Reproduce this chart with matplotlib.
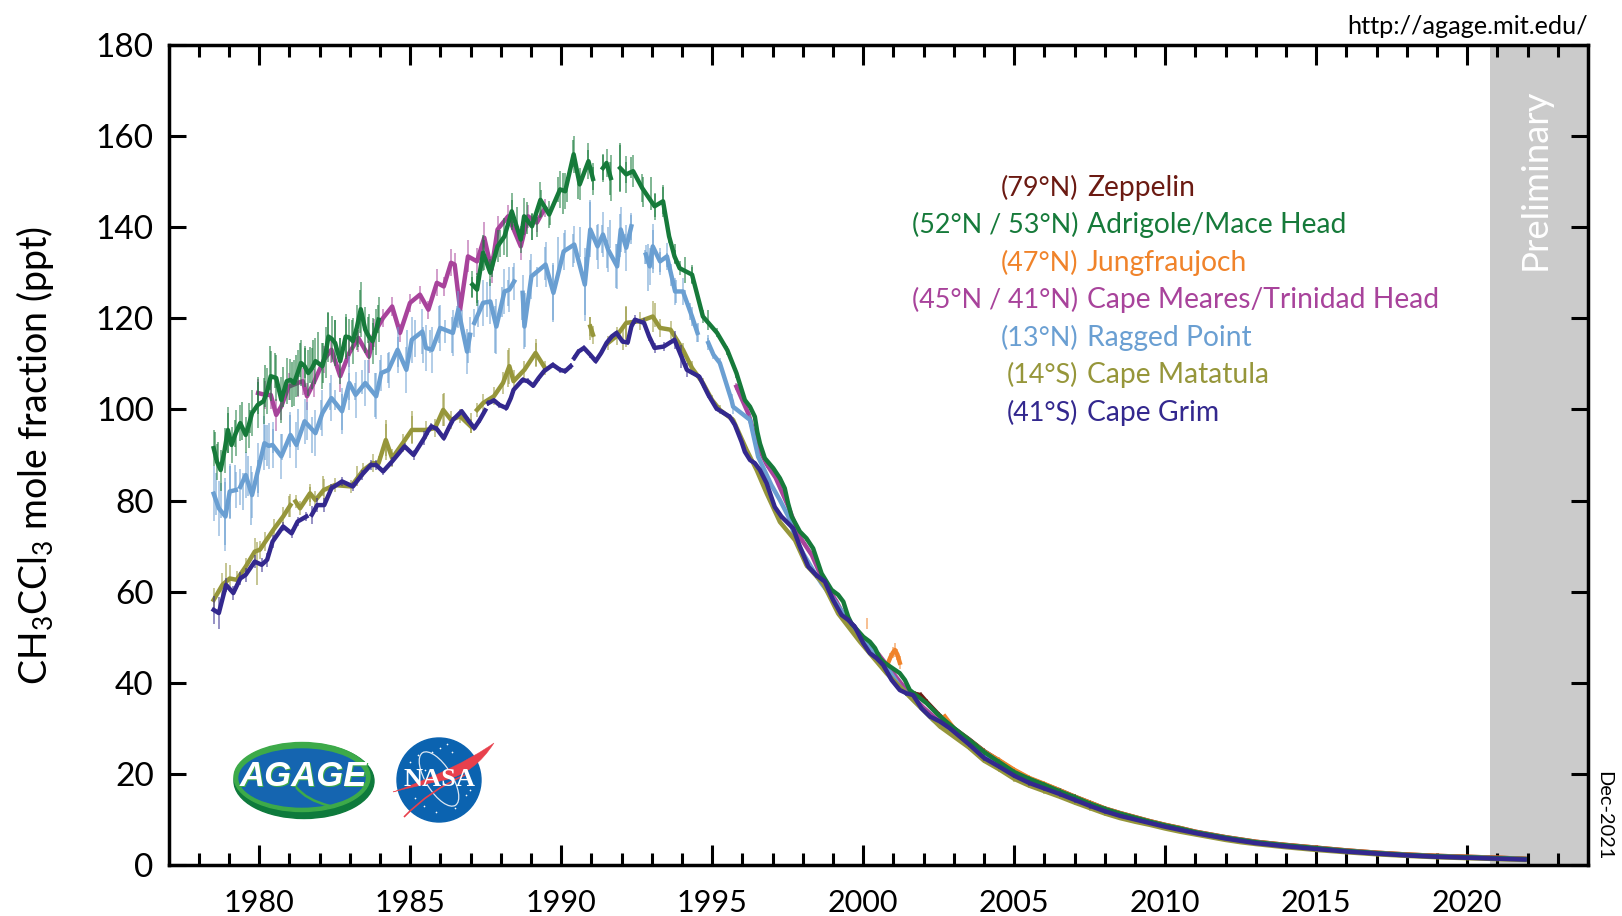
import numpy as np
import matplotlib
matplotlib.use('Agg')
import matplotlib.pyplot as plt
from matplotlib.patches import Ellipse, Circle, PathPatch
from matplotlib.path import Path

plt.rcParams['font.family'] = ['Lato', 'DejaVu Sans']
plt.rcParams['mathtext.fontset'] = 'custom'
plt.rcParams['mathtext.rm'] = 'Lato'
plt.rcParams['mathtext.default'] = 'regular'

nan = np.nan

# shared tail, all stations nearly on top of each other after 2003
tail_year = [2003.5, 2004, 2004.5, 2005, 2005.5, 2006, 2006.5, 2007, 2007.5, 2008,
             2008.5, 2009, 2009.5, 2010, 2010.5, 2011, 2011.5, 2012, 2012.5, 2013,
             2014, 2015, 2016, 2017, 2018, 2019, 2020, 2021, 2021.9]
grim_tail = [26.5, 23.5, 21.6, 19.6, 18, 16.8, 15.6, 14.3, 13, 11.8,
             10.8, 10, 9.2, 8.4, 7.7, 7, 6.4, 5.8, 5.3, 4.8,
             4.1, 3.5, 2.95, 2.5, 2.1, 1.8, 1.6, 1.4, 1.2]
mace_tail = [27.5, 24.8, 22.6, 20.4, 18.9, 17.6, 16.2, 14.9, 13.5, 12.3,
             11.3, 10.4, 9.5, 8.7, 8, 7.2, 6.6, 6, 5.5, 5,
             4.3, 3.7, 3.1, 2.6, 2.2, 1.9, 1.7, 1.5, 1.3]
samoa_tail = [25.8, 22.9, 21, 18.9, 17.4, 16.2, 15, 13.7, 12.5, 11.3,
              10.3, 9.5, 8.8, 8, 7.3, 6.7, 6.1, 5.5, 5, 4.6,
              3.9, 3.3, 2.8, 2.35, 2, 1.7, 1.5, 1.3, 1.1]
ragged_tail = [26.6, 23.9, 21.9, 19.8, 18.3, 17, 15.8, 14.5, 13.2, 12,
               11, 10.1, 9.3, 8.5, 7.8, 7.1, 6.5, 5.9, 5.4, 4.9,
               4.2, 3.6, 3, 2.55, 2.15, 1.85, 1.65, 1.45, 1.25]
trinidad_tail = [27.2, 24.5, 22.3, 20.2, 18.7, 17.4, 16, 14.7, 13.4, 12.2,
                 11.2, 10.3, 9.4, 8.6, 7.9, 7.2, 6.6, 6, 5.5, 5,
                 4.3, 3.7, 3.1, 2.6, 2.2, 1.9, 1.7, 1.5, 1.3]
zeppelin_tail = [27.6, 25, 22.9, 20.7, 19, 17.7, 16.4, 15, 13.7, 12.4,
                 11.4, 10.5, 9.6, 8.8, 8.1, 7.3, 6.7, 6.1, 5.6, 5.1,
                 4.4, 3.8, 3.2, 2.7, 2.3, 2, 1.8, 1.6, 1.35]
jungfrau_tail = [27.4, 24.9, 23, 20.9, 19.1, 17.8, 16.4, 15, 13.7, 12.4,
                 11.4, 10.5, 9.6, 8.8, 8.1, 7.3, 6.7, 6.1, 5.6, 5.1,
                 4.4, 3.8, 3.2, 2.7, 2.3, 2, 1.8, 1.6, 1.35]
tail_err = [0.6] * 10 + [0.3] * 19

# Adrigole then Mace Head
mace_year = [1978.49, 1978.60, 1978.72, 1978.85, 1978.96, 1979.08, 1979.22, 1979.37, 1979.55, 1979.65,
             1979.76, 1979.95, 1980.14, 1980.26, 1980.38, 1980.56, 1980.73, 1980.91, 1981.03, 1981.15,
             1981.27, 1981.38, 1981.50, 1981.62, 1981.74, 1981.86, 1982.09, 1982.20, 1982.29, 1982.40,
             1982.51, 1982.68, 1982.86, 1982.98, 1983.10, 1983.23, 1983.36, 1983.51, 1983.63, 1983.75,
             1983.85, 1983.95, nan,
             1987.06, 1987.21, 1987.41, 1987.65, 1987.89, 1988.12, 1988.36, 1988.66, 1988.77, 1989.03,
             1989.31, 1989.60, 1989.96, 1990.13, 1990.41, 1990.61, 1990.90, 1991.05, nan, 1991.38,
             1991.50, 1991.64, nan, 1991.95, 1992.15, 1992.38, 1992.68, 1993.09, 1993.37, 1993.57,
             1993.75, 1993.92, 1994.33, 1994.69, 1995.16, 1995.50, 1995.80]
mace_ppt = [91.5, 88.5, 86.7, 91, 95.5, 92.2, 94.8, 97, 94.4, 96.5,
            99.2, 101, 101.8, 104, 107.3, 106.9, 102.1, 106.2, 106.5, 105.8,
            108, 110.2, 109.5, 108, 109, 110.6, 109.5, 112.5, 116, 115.5,
            114.6, 110.6, 116, 115.8, 115, 118, 122, 117.5, 116, 115,
            117, 119.7, nan,
            127.4, 126.3, 134.4, 130, 135.8, 138, 143.5, 137.3, 142.4, 140.2,
            146, 142.8, 148.3, 147.9, 156, 149.4, 154.5, 150.6, nan, 153,
            154.1, 150.8, nan, 153, 151.6, 152.3, 148.6, 144.6, 145.7, 138,
            133.6, 131, 129.6, 120.4, 116.8, 113, 108]
mace_err = [4, 4, 4.5, 5, 5, 4, 5, 4, 4, 5,
            5, 5, 5, 5, 5.5, 5, 5, 5, 4.5, 5,
            5, 5, 4.5, 5, 4.5, 5, 5, 5.5, 5.5, 5,
            5, 5, 5, 4, 5, 5, 6, 5, 5, 5,
            5, 5, nan,
            3, 3, 4, 3, 3.5, 4, 4, 3, 4, 3,
            4, 3, 4, 4, 4, 3.5, 4, 3.5, nan, 3,
            3, 5, nan, 5, 4, 3.5, 3, 3, 3.5, 1.5,
            1.5, 1.5, 2, 1.5, 1, 1, 1]
mace_fall_year = [1996.08, 1996.25, 1996.41, 1996.49, 1996.58, 1996.74, 1997.02, 1997.24, 1997.40, 1997.51,
                  1997.63, 1997.90, 1998.12, 1998.34, 1998.51, 1998.62, 1998.95, 1999.17, 1999.34, 1999.50,
                  1999.61, 2000, 2000.22, 2000.39, 2000.55, 2000.66, 2001.21, 2001.38, 2001.54, 2002.1,
                  2002.43, 2002.76, 2003.09]
mace_fall_ppt = [102.06, 100.6, 98.4, 95.1, 92.5, 89.3, 87.1, 84.9, 82.7, 79.4,
                 76.5, 73.2, 71.7, 69.5, 66.2, 64, 60.4, 59.3, 57.8, 54.5,
                 53, 50.1, 49, 47.6, 45.4, 44.6, 42.1, 40.6, 38.4, 35.5,
                 33.3, 31.4, 29.6]
mace_bar_year = [1978.53, 1978.64, 1978.95, 1979.19, 1979.44, 1979.69, 1979.97, 1980.19, 1980.37, 1980.52,
                 1980.79, 1981.07, 1981.20, 1981.35, 1981.51, 1981.68, 1981.79, 1981.95, 1982.12, 1982.28,
                 1982.50, 1982.67, 1982.86, 1983.06, 1983.28, 1983.35, 1983.61, 1983.77, 1983.94,
                 1987.03, 1987.22, 1987.44, 1987.69, 1987.97, 1988.19, 1988.36, 1988.52, 1988.85, 1989.02,
                 1989.19, 1989.33, 1989.63, 1989.90, 1990.05, 1990.18, 1990.38, 1990.56, 1990.90, 1991.04,
                 1991.39, 1991.61, 1991.94, 1992.16, 1992.30, 1992.72, 1992.96, 1993.10, 1993.36, 1993.76,
                 1994.10, 1994.32, 1994.87]
mace_bar_top = [95.1, 92.9, 99.3, 97.7, 101.7, 99.9, 107.2, 109.7, 114, 112.3,
                109.4, 110.5, 111.9, 114.5, 113.4, 113.8, 115.2, 117.1, 114.5, 121.1,
                119.6, 115.6, 120.4, 119.6, 117.4, 126.2, 120.4, 118.9, 122.9,
                129.1, 129.9, 137.2, 132, 139.4, 139.4, 145.9, 144.5, 145.6, 143,
                142.3, 148.2, 143.8, 151.1, 151.8, 151.1, 159.1, 151.8, 156.9, 153.3,
                155.8, 154.4, 158.4, 154.4, 155.5, 151.1, 151.1, 147.4, 148.9, 136.4,
                133.5, 131.3, 121.8]
mace_bar_bot = [88.9, 88.9, 90.4, 91.8, 93.3, 94.8, 99.1, 100.6, 104.3, 104.6,
                100.6, 100.6, 102.8, 107.2, 106.8, 105.7, 109.4, 110.1, 105.7, 112.3,
                113.8, 110.1, 111.6, 113.1, 113.8, 116.7, 114.5, 113.1, 116.7,
                124.7, 122.6, 130.6, 129.1, 133.5, 133.5, 140.1, 139.4, 138.6, 137.2,
                137.9, 142.3, 140.5, 145.6, 143, 145.6, 153.3, 146.3, 152.6, 148.2,
                150.4, 147, 147.8, 149.6, 150.7, 144.5, 143.8, 142.3, 143, 132,
                127.7, 127.7, 117.4]

# Cape Meares then Trinidad Head
trinidad_year = [1979.96, 1980.20, 1980.38, 1980.56, 1980.73, 1980.97, 1981.27, 1981.44, 1981.58, 1981.80,
                 1982.15, 1982.39, 1982.68, 1982.98, 1983.28, 1983.63, 1983.81, 1984.10, 1984.40, 1984.66,
                 1984.99, 1985.32, 1985.60, 1985.88, 1986.11, 1986.35, 1986.47, 1986.65, 1986.91, 1987.21,
                 1987.45, 1987.69, 1987.89, 1988.24, 1988.66, 1988.90, 1989.19, 1989.46, nan,
                 1995.80, 1996.20, 1996.50, 1996.80, 1997.10, 1997.50, 1997.90, 1998.30, 1998.70, 1999.10,
                 1999.50, 2000, 2000.50, 2001, 2001.50, 2002, 2002.50, 2003] + tail_year
trinidad_ppt = [103.6, 103.2, 103.2, 98.8, 100.7, 105, 105.8, 106.2, 102.9, 105.8,
                111, 113.1, 107.3, 112.4, 115.7, 111.6, 116.8, 120.1, 122.6, 116.8,
                123.4, 125.2, 121.9, 127.8, 127, 132.2, 131.8, 121.9, 133.6, 132.5,
                137.7, 130.7, 139.5, 142.4, 135.8, 142.4, 141, 144.2, nan,
                105, 99, 92, 88, 85, 79, 72, 68, 62, 58,
                53, 49.5, 46.3, 42, 37.8, 34.5, 31.6, 29] + trinidad_tail
trinidad_err = [3, 3, 3, 3.5, 3, 3, 3, 3, 3, 3,
                3, 3, 3.5, 3, 3, 3.5, 3, 2, 2, 2,
                2, 2, 2, 3, 2, 3, 2.5, 3, 3.5, 3,
                3.5, 3, 3, 2.5, 3, 2.5, 2, 2, nan,
                0.8, 0.8, 0.8, 0.8, 0.5, 0.5, 0.5, 0.5, 0.5, 0.5,
                0.5, 0.5, 0.5, 0.5, 0.5, 0.5, 0.5, 0.5] + tail_err

# Ragged Point
ragged_year = [1978.49, 1978.66, 1978.88, 1979.02, 1979.22, nan, 1979.37, 1979.55, 1979.76, 1979.96,
               1980.17, 1980.31, 1980.44, 1980.73, 1981.03, 1981.23, 1981.50, 1981.86, 1982.09, 1982.39,
               1982.74, 1982.98, 1983.19, 1983.51, 1983.87, 1984.04, 1984.28, 1984.58, 1984.87, 1985.05,
               1985.40, 1985.52, 1985.72, 1985.99, 1986.41, 1986.59, 1986.88, 1986.98, nan, 1987.12,
               1987.41, 1987.65, 1987.85, 1988.12, 1988.28, 1988.44, nan, 1988.72, 1988.78, 1989.01,
               1989.48, 1989.74, 1990.08, 1990.43, 1990.78, 1990.96, 1991.20, 1991.38, 1991.55, 1991.85,
               1991.97, 1992.15, 1992.32, nan, 1992.80, 1992.93, 1993.03, 1993.27, 1993.50, 1993.77,
               1994.03, 1994.33, 1994.51, nan, 1994.87, 1995.04, 1995.25, 1995.64, 1995.69, 1996.25,
               1996.52, 1996.96, 1997.24, 1997.52, 1997.74, 1998.01, 1998.34, 1998.62, 1998.95, 1999.34,
               1999.78, 2000.22, 2000.77, 2001.21, 2001.77, 2002.32, 2002.90] + tail_year
ragged_ppt = [81.5, 78.3, 76.5, 82, 82.3, nan, 83, 85.6, 81.2, 86.7,
              92.6, 92, 92.2, 89.7, 94.4, 92.2, 97.4, 94.8, 99.2, 102.5,
              99.6, 105.8, 103.2, 105.8, 102.9, 108, 108.7, 113.1, 108.7, 115.3,
              117.1, 113.5, 113.1, 117.9, 116.8, 121.9, 112.7, 116.4, nan, 119,
              123.4, 123.7, 118.2, 125.9, 126.3, 128.1, nan, 125.6, 118.2, 129.2,
              131.8, 125.6, 134.7, 136.2, 127.4, 139.5, 135.8, 138.4, 135.1, 131.4,
              139.5, 135.5, 140.2, nan, 134, 131.4, 135.8, 132.5, 133.6, 125.9,
              125.9, 120.4, 116.8, nan, 114.6, 112, 110.2, 102, 100.6, 97.7,
              89.6, 83.4, 80.1, 76.5, 72, 68.4, 64.7, 61.8, 58.9, 55.2,
              51.6, 48, 43.5, 39.2, 35.5, 31.8, 29.2] + ragged_tail
ragged_err = [6, 6, 7.5, 6, 4, nan, 4, 5, 5, 6,
              6, 5, 5, 5, 5, 5, 5, 5, 5, 5,
              5, 6, 5, 5, 5, 4, 4, 5, 5, 5,
              5, 5, 5, 5, 5, 4, 5, 4, nan, 3,
              5, 5, 6, 5, 5, 4, nan, 4, 5, 5,
              5, 6, 4, 4, 8, 6, 5, 5, 5, 5,
              5, 5, 3, nan, 2, 4, 5, 3, 3, 3,
              3, 2, 2, nan, 1, 1, 1, 1.5, 1.5, 1,
              0.5, 0.5, 0.5, 0.5, 0.5, 0.5, 0.5, 0.5, 0.5, 0.5,
              0.5, 0.5, 0.5, 0.5, 0.5, 0.5, 0.5] + tail_err
ragged_bar_year = [1978.55, 1978.72, 1978.86, 1979.04, 1979.20, 1979.46, 1979.63, 1979.73, 1979.96, 1980.24,
                   1980.19, 1980.46, 1980.74, 1981.01, 1981.29, 1981.57, 1981.73, 1982.06, 1982.34, 1982.50,
                   1982.75, 1982.97, 1983.17, 1983.39, 1983.61, 1983.83, 1984, 1984.27, 1984.60, 1984.88,
                   1985.16, 1985.43, 1985.65, 1985.96, 1986.15, 1986.37, 1986.54, 1986.70, 1986.92, 1987.25,
                   1987.55, 1987.81, 1988.03, 1988.25, 1988.41, 1988.69, 1988.80, 1988.96, 1989.19, 1989.46,
                   1989.72, 1989.90, 1990.12, 1990.40, 1990.62, 1990.79, 1990.95, 1991.17, 1991.34, 1991.50,
                   1991.61, 1991.81, 1991.94, 1992.11, 1992.30, 1992.77, 1992.88, 1993.03, 1993.27, 1993.49,
                   1993.65, 1993.80, 1994.10, 1994.26, 1994.54, 1994.87]
ragged_bar_top = [86, 83.8, 84.9, 87.5, 87.8, 86, 89.7, 87.5, 88.9, 96.6,
                  96.6, 95.8, 94.7, 98.8, 100.2, 101.7, 98.4, 102.1, 105.7, 104.3,
                  103.5, 107.9, 105.7, 108.6, 110.8, 107.9, 110.8, 112.3, 116, 117.4,
                  119.6, 118.2, 117.4, 122.6, 119.6, 120.4, 122.6, 121.8, 116.7, 124,
                  128, 122.6, 126.9, 128.4, 131.3, 125.5, 125.5, 132.8, 131.3, 135.7,
                  132.1, 137.9, 139.4, 138.6, 140.1, 133.5, 146, 140.5, 140.5, 137.2,
                  141.6, 136.4, 143, 138.6, 142.7, 135, 136.4, 139.4, 134.6, 134.3,
                  132, 128.4, 126.2, 123.3, 118.9, 116.3]
ragged_bar_bot = [76.9, 76.1, 70.3, 76.1, 82.3, 78, 80.9, 74.7, 81.6, 87.5,
                  88.9, 90.4, 88.9, 91.8, 91.1, 93.3, 90.4, 95.5, 99.9, 99.9,
                  95.5, 102.1, 102.1, 103.5, 105, 98.4, 107.2, 105.7, 109.4, 110.8,
                  111.6, 110.1, 112.3, 114.5, 114.5, 112.3, 118.2, 116.7, 110.1, 118.2,
                  120.4, 112.3, 120.4, 122.6, 126.9, 119.6, 113.8, 125.5, 126.9, 128.4,
                  119.3, 128.4, 134.3, 131.3, 133.5, 120.7, 137.2, 132.8, 134.3, 131,
                  135.4, 126.6, 133.5, 134.3, 136.4, 132, 125.9, 129.9, 130.2, 131.3,
                  127, 123.3, 124, 119.6, 114.9, 113]

# Cape Matatula
samoa_year = [1978.49, 1978.78, 1979.02, 1979.25, 1979.55, 1979.85, 1980.02, 1980.20, 1980.50, 1980.79,
              1981.03, nan, 1981.20, 1981.35, 1981.68, 1981.86, 1982.13, 1982.50, 1983.04, 1983.45,
              1983.75, 1983.95, 1984.19, 1984.40, 1984.75, 1985.05, 1985.52, 1985.82, 1986.09, 1986.35,
              1986.65, 1987, nan, 1987.21, 1987.41, 1987.77, 1988.07, 1988.28, 1988.42, 1988.78,
              1989.15, 1989.46, nan, 1990.96, 1991.05, nan, 1991.55, 1991.83, 1992.15, 1992.62,
              1993.03, 1993.27, 1993.62, 1994.03, 1994.33, 1994.69, 1994.99, 1995.25, 1995.69, 1996.14,
              1996.47, 1996.80, 1997.24, 1997.74, 1998.12, 1998.67, 1999.17, 1999.89, 2000.77, 2001.65,
              2002.54] + tail_year
samoa_ppt = [58.2, 61.5, 62.9, 62.6, 65.5, 68.8, 69.2, 71, 73.9, 76.5,
             79, nan, 79.8, 78.3, 81.6, 80.1, 82.3, 83.4, 83.1, 86.7,
             88.2, 88.2, 93.3, 89.3, 92.6, 95.5, 95.5, 95.9, 99.9, 97.7,
             98.5, 96.3, nan, 99.9, 101.4, 102.9, 105.8, 109.5, 106.2, 108.7,
             112.4, 109.1, nan, 118.2, 116.4, nan, 114.6, 116.1, 119, 119.4,
             120.4, 117.9, 117.5, 113.1, 109.1, 105.8, 102.1, 99.9, 97.7, 91.1,
             86.7, 81.6, 75.3, 71.3, 65.8, 61.8, 55.2, 49, 42.1, 36.2,
             30.4] + samoa_tail
samoa_err = [2.5, 2.5, 3, 2, 2, 3, 2, 2, 2, 2,
             2.5, nan, 1.5, 1.5, 2, 2, 2.5, 1.5, 1.5, 1.5,
             2, 1.5, 3.5, 2, 2, 3, 2, 2, 3.5, 2,
             1.5, 1.5, nan, 1.5, 2, 2, 2.5, 4, 2.5, 2,
             3, 1.5, nan, 2, 2, nan, 1.5, 2, 3.5, 2,
             3.5, 2, 2, 1.5, 1.5, 1, 1, 1, 0.7, 0.6,
             0.5, 0.5, 0.5, 0.5, 0.5, 0.5, 0.5, 0.5, 0.5, 0.5,
             0.5] + tail_err
samoa_bar_year = [1978.90, 1979.91, 1980.97, 1981.68, 1982.12, 1983.22, 1984.19, 1985.05, 1986.11, 1987,
                  1988.24, 1989.15, 1990.96, 1992.03, 1992.15, 1993.09]
samoa_bar_top = [66.2, 71, 80.9, 83, 85.3, 87.5, 97.7, 99.6, 103.6, 99.2,
                 113.1, 114.6, 120.4, 118, 122.6, 123.4]
samoa_bar_bot = [61, 61.5, 76.5, 78.7, 80.9, 83.1, 88.9, 92.6, 96.3, 94.8,
                 105, 109.5, 115.3, 113, 113.8, 118.2]

# Cape Grim
grim_year = [1978.49, 1978.66, 1978.90, 1979.14, 1979.37, 1979.55, 1979.85, 1980.08, 1980.26, 1980.44,
             1980.79, 1981.07, 1981.27, 1981.56, nan, 1981.74, 1981.92, 1982.15, 1982.39, 1982.74,
             1983.10, 1983.39, 1983.69, 1983.87, 1984.10, 1984.40, 1984.81, 1985.11, 1985.46, 1985.58,
             1985.70, 1985.88, 1986.11, 1986.27, 1986.41, 1986.70, 1986.91, 1987.12, 1987.30, 1987.48,
             nan, 1987.59, 1987.77, 1987.95, 1988.18, 1988.33, 1988.42, 1988.72, 1988.89, 1989.07,
             1989.25, 1989.43, 1989.72, 1989.96, 1990.13, 1990.31, nan, 1990.43, 1990.57, 1990.75,
             1990.96, 1991.14, 1991.32, 1991.50, 1991.67, 1991.83, 1992.03, 1992.20, 1992.32, 1992.44,
             1992.74, 1992.91, 1993.09, 1993.39, 1993.75, 1993.98, 1994.16, 1994.57, 1994.87]
grim_ppt = [56, 55.3, 61.5, 59.7, 62.9, 63.7, 66.6, 65.9, 67, 71,
            74.3, 72.8, 75.4, 76.5, nan, 76.9, 79, 79, 82.7, 84.2,
            83.1, 85.6, 87.8, 87.8, 86.4, 88.6, 91.9, 90, 93.7, 95.2,
            96.3, 95.7, 93.7, 95.9, 97.7, 99.6, 97.7, 95.9, 97.7, 99.8,
            nan, 101.4, 102, 101, 100.3, 102.5, 104.3, 106.5, 106.2, 105.2,
            106.9, 108.4, 109.8, 108.7, 108.4, 109.5, nan, 111.3, 112.7, 113.5,
            112, 110.6, 112.4, 114.6, 116, 116.8, 114.9, 114.7, 118.2, 119.7,
            119, 116, 113.5, 113.8, 115.3, 111.6, 108.7, 107.2, 103.2]
grim_err = [3, 3.5, 1.5, 1.5, 1.5, 1.5, 1.5, 1.5, 1.5, 1.5,
            1, 1, 1, 1, nan, 2, 1.5, 1.5, 1, 1,
            1, 1, 1, 1, 0.8, 1, 0.8, 1, 1.5, 0.8,
            0.8, 0.6, 0.6, 0.6, 0.6, 0.6, 0.6, 0.6, 0.6, 0.6,
            nan, 0.6, 0.6, 0.6, 0.6, 0.6, 0.6, 0.6, 0.6, 0.6,
            0.6, 0.6, 0.6, 0.6, 0.6, 0.6, nan, 0.6, 0.6, 0.6,
            0.6, 0.6, 0.6, 0.6, 0.6, 0.6, 0.6, 0.6, 0.6, 1,
            1, 1, 1, 1, 2, 2.5, 1.5, 0.6, 0.6]
grim_fall_year = [1995.14, 1995.36, 1995.58, 1995.75, 1995.97, 1996.08, 1996.25, 1996.41, 1996.58, 1996.80,
                  1997.07, 1997.29, 1997.68, 1997.90, 1998.18, 1998.45, 1998.73, 1999.0, 1999.28, 1999.50,
                  1999.72, 2000.0, 2000.22, 2000.44, 2000.66, 2000.94, 2001.21, 2001.43, 2001.65, 2001.93,
                  2002.21, 2002.54, 2002.87]
grim_fall_ppt = [100.2, 99.3, 98.4, 96.6, 92.9, 90.7, 88.9, 88.2, 86.7, 83.8,
                 78.6, 76.5, 73.9, 69.9, 65.5, 63.6, 62.2, 58.2, 54.9, 53.8,
                 52.3, 48.7, 46.5, 45.4, 43.9, 40.6, 38.4, 37.7, 37.3, 34.4,
                 32.6, 31.5, 30]

# Jungfraujoch
jungfrau_year = [2000.11, nan, 2000.80, 2000.90, 2000.98, 2001.05, 2001.13, 2001.21, nan, 2002.70, 2003] + tail_year
jungfrau_ppt = [53, nan, 44, 45.6, 46.6, 47.2, 46.2, 44.4, nan, 32.6, 30] + jungfrau_tail
jungfrau_err = [1.2, nan, 0.8, 1, 1.2, 1.5, 1.2, 1.4, nan, 0.5, 0.5] + tail_err

# Zeppelin
zeppelin_year = [2001.70, 2001.90, 2002.10, 2002.50, 2003] + tail_year
zeppelin_ppt = [37.6, 37.3, 35.8, 33, 30] + zeppelin_tail
zeppelin_err = [0.6, 0.6, 0.6, 0.6, 0.6] + tail_err

legend_lat = ['(79°N)', '(52°N / 53°N)', '(47°N)', '(45°N / 41°N)', '(13°N)', '(14°S)', '(41°S)']
legend_site = ['Zeppelin', 'Adrigole/Mace Head', 'Jungfraujoch', 'Cape Meares/Trinidad Head',
               'Ragged Point', 'Cape Matatula', 'Cape Grim']
legend_color = ['#6B1A12', '#167A3A', '#F0832A', '#A8439B', '#6A9FD2', '#96963A', '#33288E']
year_ticks = [1980, 1985, 1990, 1995, 2000, 2005, 2010, 2015, 2020]
ppt_ticks = [0, 20, 40, 60, 80, 100, 120, 140, 160, 180]
prelim_start = 2020.75

W, H = 1622, 916


def draw_station(ax, year, ppt, err, color, zorder):
    year = np.array(year)
    ppt = np.array(ppt)
    err = np.array(err)
    ok = ~np.isnan(year)
    ax.vlines(year[ok], ppt[ok] - err[ok], ppt[ok] + err[ok], color=color, lw=1.1, alpha=0.65, zorder=zorder)
    ax.plot(year, ppt, color=color, lw=3.2, solid_joinstyle='round', zorder=zorder + 0.1)


def draw_logos(fig):
    # logos in pixel coordinates of the figure
    lax = fig.add_axes([0, 0, 1, 1], zorder=5)
    lax.set_xlim(0, W)
    lax.set_ylim(H, 0)
    lax.axis('off')
    lax.patch.set_alpha(0)

    lax.add_patch(Ellipse((304, 781), 140, 75, color='#0E7A3C'))
    lax.add_patch(Ellipse((302, 777), 136, 69, color='#3DAA49'))
    lax.add_patch(Ellipse((302, 778), 126, 58, color='#1565B0'))
    curve = Path([(296, 787), (306, 800), (330, 806)], [Path.MOVETO, Path.CURVE3, Path.CURVE3])
    lax.add_patch(PathPatch(curve, fc='none', ec='#3DAA49', lw=1.8))
    for dx, dy, c in [(1.5, 1.5, '#3DAA49'), (0, 0, 'white')]:
        lax.text(303 + dx, 776 + dy, 'AGAGE', color=c, fontsize=25, fontweight='bold', fontstyle='italic',
                 family='Liberation Sans', ha='center', va='center')

    lax.add_patch(Circle((439, 780), 42, color='#0B63B0'))
    star_x = [410, 418, 425, 440, 447, 452, 462, 415, 424, 436, 455, 466, 470, 432]
    star_y = [762, 755, 770, 748, 744, 752, 768, 798, 806, 812, 808, 795, 790, 752]
    lax.scatter(star_x, star_y, s=1.5, color='white', lw=0)
    lax.add_patch(Ellipse((439, 779), 26, 62, angle=-32, fc='none', ec='#DDE7F2', lw=0.9))
    wing = Path([(393, 792), (455, 770), (494, 743), (475, 773), (445, 780), (420, 785), (393, 792)],
                [Path.MOVETO, Path.CURVE3, Path.CURVE3, Path.CURVE3, Path.CURVE3, Path.CURVE3, Path.CURVE3])
    lax.add_patch(PathPatch(wing, fc='#E8404C', ec='#E8404C', lw=0.3))
    lower = Path([(404, 817), (430, 790), (465, 775)], [Path.MOVETO, Path.CURVE3, Path.CURVE3])
    lax.add_patch(PathPatch(lower, fc='none', ec='#E8404C', lw=1.2))
    lax.text(439, 780, 'NASA', color='white', fontsize=19, fontweight='bold', family='Liberation Serif',
             ha='center', va='center')


fig = plt.figure(figsize=(W / 100, H / 100), dpi=100)
ax = fig.add_axes([169 / W, 1 - 865 / H, (1588 - 169) / W, 820 / H])

ax.axvspan(prelim_start, 2024, color='#CBCBCB', lw=0, zorder=0)

draw_station(ax, zeppelin_year, zeppelin_ppt, zeppelin_err, legend_color[0], 2)
draw_station(ax, jungfrau_year, jungfrau_ppt, jungfrau_err, legend_color[2], 2.5)
draw_station(ax, trinidad_year, trinidad_ppt, trinidad_err, legend_color[3], 3)
ax.vlines(ragged_bar_year, ragged_bar_bot, ragged_bar_top, color=legend_color[4], lw=1.1, alpha=0.7, zorder=4)
draw_station(ax, ragged_year, ragged_ppt, ragged_err, legend_color[4], 4)
ax.vlines(samoa_bar_year, samoa_bar_bot, samoa_bar_top, color=legend_color[5], lw=1.1, alpha=0.7, zorder=5)
draw_station(ax, samoa_year, samoa_ppt, samoa_err, legend_color[5], 5)
ax.vlines(mace_bar_year, mace_bar_bot, mace_bar_top, color=legend_color[1], lw=1.1, alpha=0.7, zorder=6)
draw_station(ax, mace_year + mace_fall_year + tail_year, mace_ppt + mace_fall_ppt + mace_tail,
             mace_err + [0.5] * len(mace_fall_year) + tail_err, legend_color[1], 6)
draw_station(ax, grim_year + grim_fall_year + tail_year, grim_ppt + grim_fall_ppt + grim_tail,
             grim_err + [0.5] * len(grim_fall_year) + tail_err, legend_color[6], 7)

ax.set_xlim(1977.01, 2024)
ax.set_ylim(0, 180)
ax.set_xticks(year_ticks)
ax.set_xticks(np.arange(1978, 2024), minor=True)
ax.set_yticks(ppt_ticks)
ax.tick_params(axis='x', which='major', direction='in', top=True, length=14.5, width=2.2, pad=17.5, labelsize=22)
ax.tick_params(axis='x', which='minor', direction='in', top=True, length=8.5, width=2.2)
ax.tick_params(axis='y', which='major', direction='in', right=True, length=12, width=2.2, pad=11, labelsize=24)
for s in ax.spines.values():
    s.set_linewidth(2.5)
    s.set_zorder(10)

ax.set_ylabel('CH$_3$CCl$_3$ mole fraction (ppt)', fontsize=27)
ax.yaxis.set_label_coords(-0.0795, 0.5)

# legend as two aligned text columns
legend_y = [188, 225, 263, 300, 338, 375, 413]
for lat, site, c, y in zip(legend_lat, legend_site, legend_color, legend_y):
    fig.text(1078 / W, 1 - y / H, lat, color=c, fontsize=19.4, ha='right', va='center')
    fig.text(1087 / W, 1 - y / H, site, color=c, fontsize=20.3, ha='left', va='center')

fig.text(1588 / W, 1 - 26 / H, 'http://agage.mit.edu/', fontsize=18.2, ha='right', va='center')
fig.text(1604 / W, 1 - 816 / H, 'Dec-2021', fontsize=14.4, rotation=-90, ha='center', va='center')
fig.text(1535 / W, 1 - 179 / H, 'Preliminary', color='white', fontsize=26.3, rotation=90, ha='center', va='center')

draw_logos(fig)

plt.savefig('out.png', dpi=100)
